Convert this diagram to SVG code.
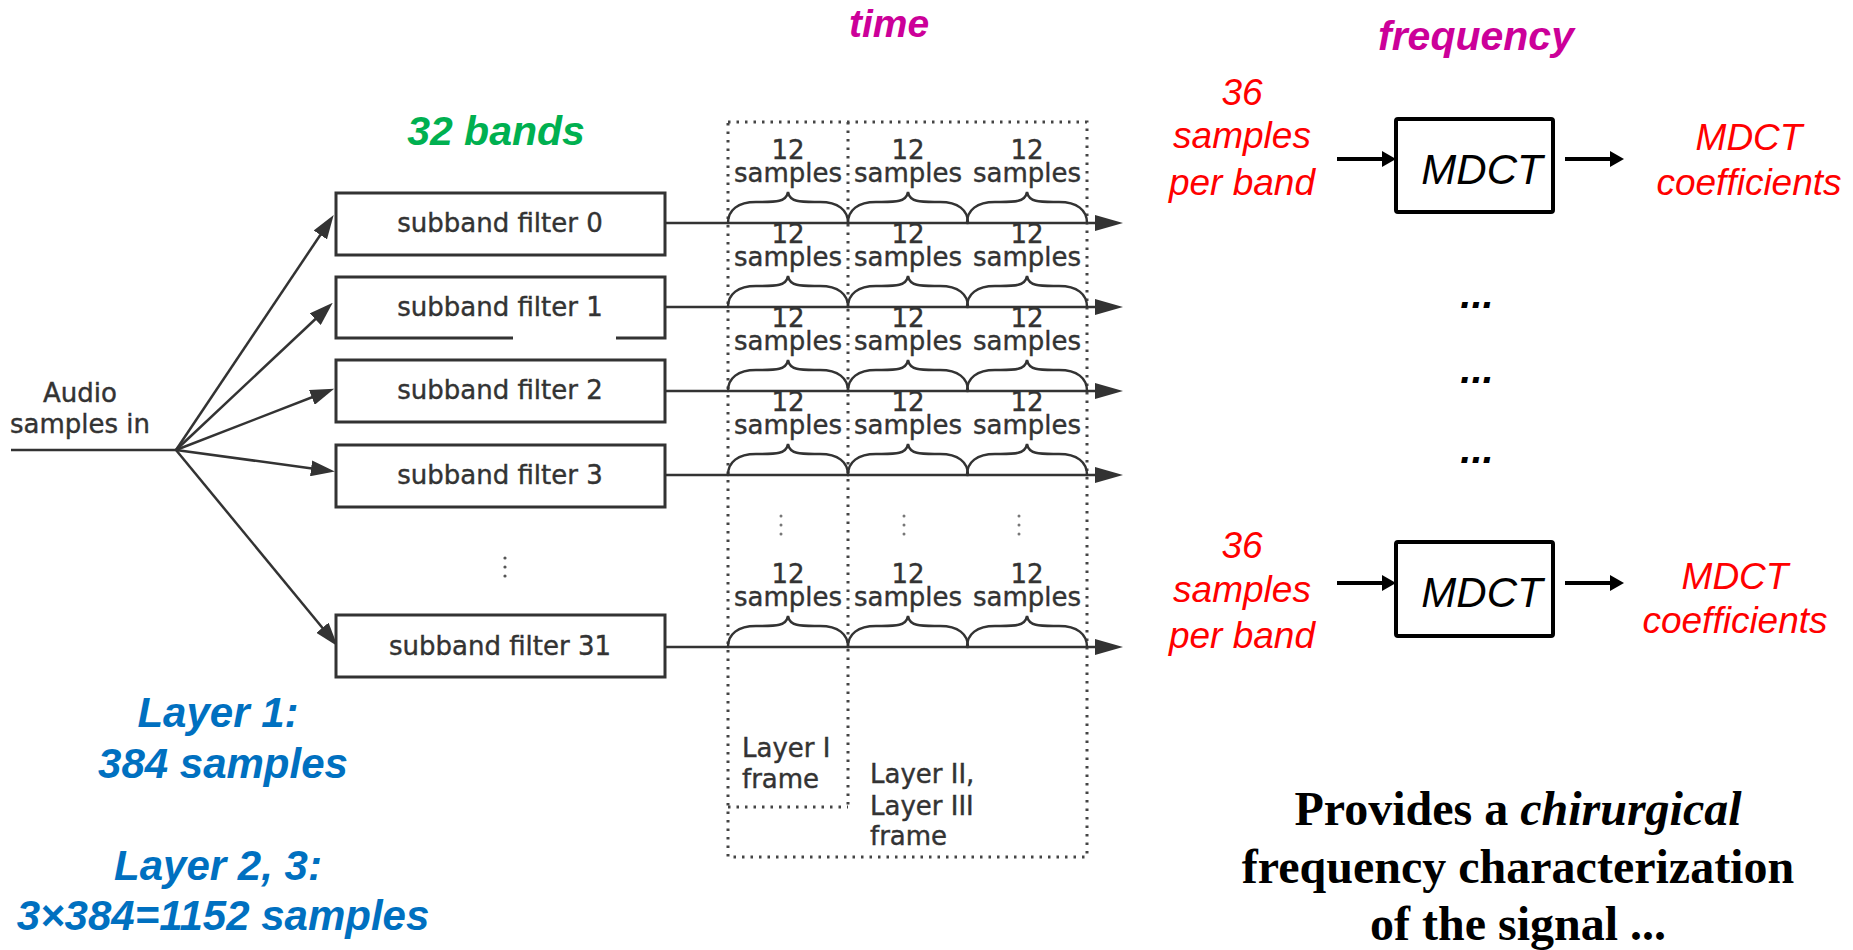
<svg xmlns="http://www.w3.org/2000/svg" width="1853" height="950" viewBox="0 0 1853 950">
<style>
.scan{font-family:"DejaVu Sans",sans-serif;font-size:26px;fill:#333;stroke:#333;stroke-width:0.4}
.box{fill:#fff;stroke:#333;stroke-width:3}
.ln{stroke:#333;stroke-width:2.5;fill:none}
.br{stroke:#333;stroke-width:2.5;fill:none;stroke-linecap:round}
.dot{stroke:#444;stroke-width:3;fill:none;stroke-dasharray:2.5,6}
.mid{text-anchor:middle}
.bi{font-family:"Liberation Sans",Arial,sans-serif;font-weight:bold;font-style:italic}
.it{font-family:"Liberation Sans",Arial,sans-serif;font-style:italic}
.red{fill:#FF0000;font-size:37px}
.blue{fill:#0070C0;font-size:42px}
.mag{fill:#CC0099}
.tnr{font-family:"Liberation Serif","Times New Roman",serif;font-weight:bold;font-size:48px;fill:#000}
.thick{stroke:#000;stroke-width:4;fill:none}
</style>
<defs>
<marker id="ah" markerUnits="userSpaceOnUse" viewBox="0 0 28 16" markerWidth="28" markerHeight="16" refX="14" refY="8" orient="auto">
<path d="M0,0 L28,8 L0,16 Z" fill="#333"/>
</marker>
<marker id="af" markerUnits="userSpaceOnUse" viewBox="0 0 24 16" markerWidth="24" markerHeight="16" refX="12" refY="8" orient="auto">
<path d="M0,0 L24,8 L0,16 Z" fill="#333"/>
</marker>
<marker id="ak" markerUnits="userSpaceOnUse" viewBox="0 0 14 16" markerWidth="14" markerHeight="16" refX="6" refY="8" orient="auto">
<path d="M0,0 L14,8 L0,16 Z" fill="#000"/>
</marker>
</defs>

<rect width="1853" height="950" fill="#fff"/>

<!-- titles -->
<text class="bi mag mid" x="889" y="37" font-size="39">time</text>
<text class="bi mag mid" x="1476" y="50" font-size="41">frequency</text>
<text class="bi mid" x="496" y="145" font-size="41" fill="#00B050">32 bands</text>

<!-- connectors -->
<g id="connectors">
<line class="ln" x1="11" y1="450" x2="176" y2="450"/>
<line class="ln" x1="176" y1="450" x2="327" y2="225" marker-end="url(#af)"/>
<line class="ln" x1="176" y1="450" x2="324" y2="311" marker-end="url(#af)"/>
<line class="ln" x1="176" y1="450" x2="323" y2="393" marker-end="url(#af)"/>
<line class="ln" x1="176" y1="450" x2="323" y2="470" marker-end="url(#af)"/>
<line class="ln" x1="176" y1="450" x2="330" y2="637" marker-end="url(#af)"/>
<line class="ln" x1="665" y1="223" x2="1109" y2="223" marker-end="url(#ah)"/>
<line class="ln" x1="665" y1="307" x2="1109" y2="307" marker-end="url(#ah)"/>
<line class="ln" x1="665" y1="391" x2="1109" y2="391" marker-end="url(#ah)"/>
<line class="ln" x1="665" y1="475" x2="1109" y2="475" marker-end="url(#ah)"/>
<line class="ln" x1="665" y1="647" x2="1109" y2="647" marker-end="url(#ah)"/>
<line class="thick" x1="1337" y1="159" x2="1388" y2="159" marker-end="url(#ak)"/>
<line class="thick" x1="1565" y1="159" x2="1616" y2="159" marker-end="url(#ak)"/>
<line class="thick" x1="1337" y1="583" x2="1388" y2="583" marker-end="url(#ak)"/>
<line class="thick" x1="1565" y1="583" x2="1616" y2="583" marker-end="url(#ak)"/>
</g>

<!-- input label -->
<g id="input">
<text class="scan mid" x="80" y="402">Audio</text>
<text class="scan" x="10" y="433">samples in</text>
</g>

<!-- subband filters -->
<g id="filter0"><rect class="box" x="336" y="193" width="329" height="62"/><text class="scan mid" x="500" y="232">subband filter 0</text></g>
<g id="filter1"><path class="box" d="M513,338 L336,338 L336,277 L665,277 L665,338 L616,338"/><text class="scan mid" x="500" y="316">subband filter 1</text></g>
<g id="filter2"><rect class="box" x="336" y="360" width="329" height="62"/><text class="scan mid" x="500" y="399">subband filter 2</text></g>
<g id="filter3"><rect class="box" x="336" y="445" width="329" height="62"/><text class="scan mid" x="500" y="484">subband filter 3</text></g>
<g id="filter31"><rect class="box" x="336" y="615" width="329" height="62"/><text class="scan mid" x="500" y="655">subband filter 31</text></g>
<g id="vdots-left" fill="#555"><circle cx="505" cy="558" r="1.6"/><circle cx="505" cy="567" r="1.6"/><circle cx="505" cy="576" r="1.6"/></g>

<!-- time frame -->
<g id="frames">
<rect class="dot" x="728" y="122" width="359" height="735"/>
<line class="dot" x1="848" y1="122" x2="848" y2="807"/>
<line class="dot" x1="728" y1="807" x2="848" y2="807"/>
<text class="scan" x="742" y="757">Layer I</text>
<text class="scan" x="742" y="788">frame</text>
<text class="scan" x="870" y="783">Layer II,</text>
<text class="scan" x="870" y="815">Layer III</text>
<text class="scan" x="870" y="845">frame</text>
</g>

<!-- braces and sample labels -->
<defs>
<path id="brace" class="br" d="M-60,0 C-60,-13 -50,-21 -32,-21 C-14,-21 -2,-20 0,-31 C2,-20 14,-21 32,-21 C50,-21 60,-13 60,0"/>
<g id="blk">
<use href="#brace"/>
<text class="scan mid" x="0" y="-64" font-size="27">12</text>
<text class="scan mid" x="0" y="-41">samples</text>
</g>
</defs>
<g id="row0"><use href="#blk" x="788" y="223"/><use href="#blk" x="908" y="223"/><use href="#blk" x="1027" y="223"/></g>
<g id="row1"><use href="#blk" x="788" y="307"/><use href="#blk" x="908" y="307"/><use href="#blk" x="1027" y="307"/></g>
<g id="row2"><use href="#blk" x="788" y="391"/><use href="#blk" x="908" y="391"/><use href="#blk" x="1027" y="391"/></g>
<g id="row3"><use href="#blk" x="788" y="475"/><use href="#blk" x="908" y="475"/><use href="#blk" x="1027" y="475"/></g>
<g id="row31"><use href="#blk" x="788" y="647"/><use href="#blk" x="908" y="647"/><use href="#blk" x="1027" y="647"/></g>
<g id="vdots-cols" fill="#777">
<circle cx="781" cy="516" r="1.5"/><circle cx="781" cy="525" r="1.5"/><circle cx="781" cy="534" r="1.5"/>
<circle cx="904" cy="516" r="1.5"/><circle cx="904" cy="525" r="1.5"/><circle cx="904" cy="534" r="1.5"/>
<circle cx="1019" cy="516" r="1.5"/><circle cx="1019" cy="525" r="1.5"/><circle cx="1019" cy="534" r="1.5"/>
</g>

<!-- MDCT top -->
<g id="in-top"><text class="it red mid" x="1242" y="105">36</text><text class="it red mid" x="1242" y="148">samples</text><text class="it red mid" x="1242" y="195">per band</text></g>
<g id="mdct-top"><rect x="1396" y="119" width="157" height="93" rx="2" fill="#fff" stroke="#000" stroke-width="4"/><text class="it mid" x="1482" y="184" font-size="42" fill="#000">MDCT</text></g>
<g id="out-top"><text class="it red mid" x="1749" y="150">MDCT</text><text class="it red mid" x="1749" y="195">coefficients</text></g>

<g id="ellipses"><text class="bi mid" x="1477" y="308" font-size="40">...</text><text class="bi mid" x="1477" y="383" font-size="40">...</text><text class="bi mid" x="1477" y="463" font-size="40">...</text></g>

<!-- MDCT bottom -->
<g id="in-bot"><text class="it red mid" x="1242" y="558">36</text><text class="it red mid" x="1242" y="602">samples</text><text class="it red mid" x="1242" y="648">per band</text></g>
<g id="mdct-bot"><rect x="1396" y="542" width="157" height="94" rx="2" fill="#fff" stroke="#000" stroke-width="4"/><text class="it mid" x="1482" y="607" font-size="42" fill="#000">MDCT</text></g>
<g id="out-bot"><text class="it red mid" x="1735" y="589">MDCT</text><text class="it red mid" x="1735" y="633">coefficients</text></g>

<!-- notes -->
<g id="layers">
<text class="bi blue mid" x="218" y="727">Layer 1:</text>
<text class="bi blue mid" x="223" y="778">384 samples</text>
<text class="bi blue mid" x="218" y="880">Layer 2, 3:</text>
<text class="bi blue mid" x="223" y="930">3×384=1152 samples</text>
</g>
<g id="caption">
<text class="tnr mid" x="1518" y="825">Provides a <tspan font-style="italic">chirurgical</tspan></text>
<text class="tnr mid" x="1518" y="883">frequency characterization</text>
<text class="tnr mid" x="1518" y="940">of the signal ...</text>
</g>
</svg>
